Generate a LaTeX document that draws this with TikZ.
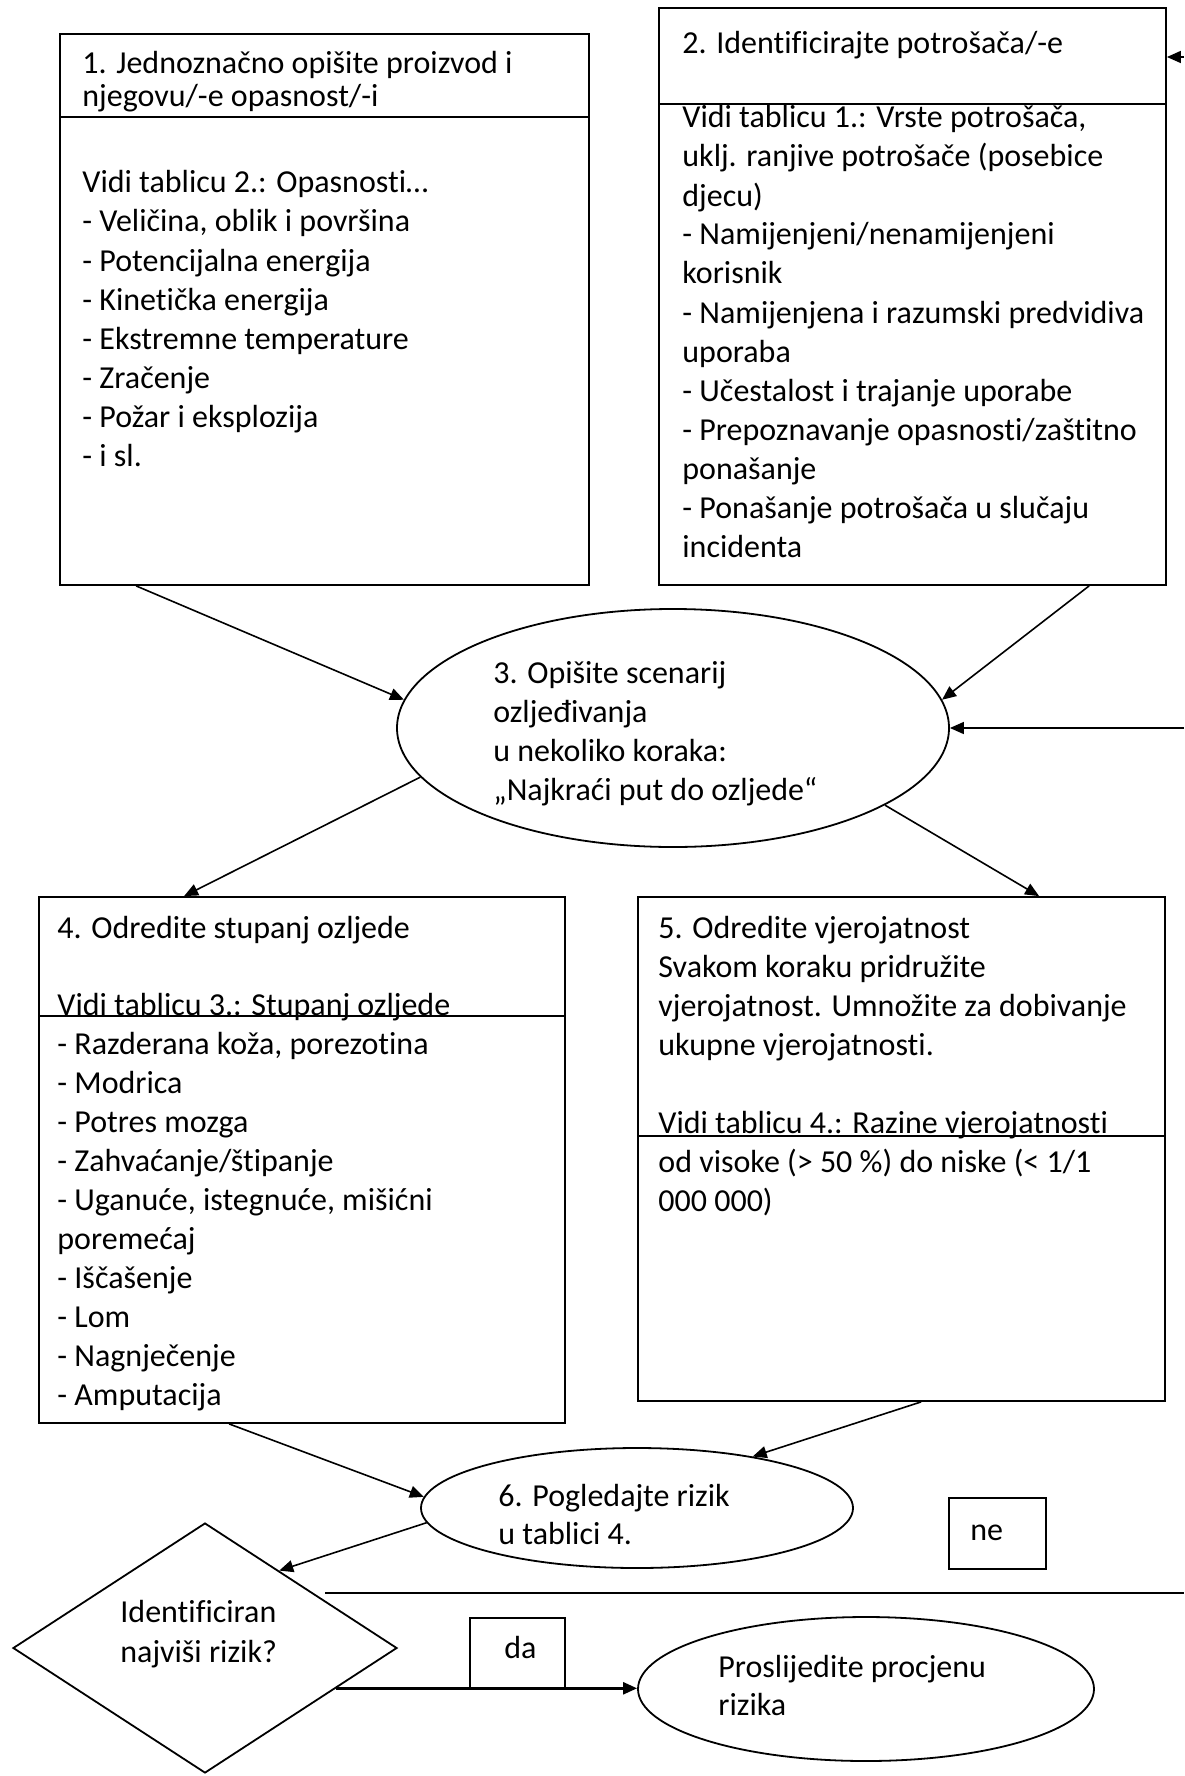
\documentclass[tikz,border=0pt]{standalone}
\usepackage{fontspec}
\setmainfont{Carlito}[Ligatures=NoCommon]
\usetikzlibrary{shapes.geometric,arrows.meta,calc,fit}
\begin{document}
\begin{tikzpicture}[x=0.5pt,y=-0.5pt,
  box/.style={draw,line width=0.9pt,inner sep=0pt,rectangle},
  ell/.style={draw,ellipse,line width=0.9pt,inner sep=0pt},
  txt/.style={anchor=base west,inner sep=0pt,font=\fontsize{16}{19.5}\selectfont},
  arr/.style={line width=0.8pt,-{Triangle[length=7pt,width=6pt]}},
  divider/.style={line width=0.9pt}]
\useasboundingbox (0,0) rectangle (1184,1776);

% shapes
\node[box,fit={(60,34) (589,585)}] (b1) {};
\node[box,fit={(659,8) (1166,585)}] (b2) {};
\node[box,fit={(39,897) (565,1423)}] (b4) {};
\node[box,fit={(638,897) (1165,1401)}] (b5) {};
\node[ell,minimum width=276pt,minimum height=119pt] (e3) at (673,728) {};
\node[ell,minimum width=216pt,minimum height=60pt] (e6) at (637,1508) {};
\node[ell,minimum width=228pt,minimum height=72pt] (pro) at (866,1689) {};
\node[draw,diamond,line width=0.9pt,inner sep=0pt,minimum width=192pt,minimum height=125pt] (dia) at (205,1648) {};
\node[box,fit={(470,1618) (565,1688)}] (da) {};
\node[box,fit={(949,1498) (1046,1569)}] (ne) {};

% texts
\node[txt] (t1a) at (82,74) {1. Jednoznačno opišite proizvod i};
\node[txt] (t1b) at (82,107) {njegovu/-e opasnost/-i};
\foreach \s [count=\i] in {{Vidi tablicu 2.: Opasnosti…},{- Veličina, oblik i površina},{- Potencijalna energija},{- Kinetička energija},{- Ekstremne temperature},{- Zračenje},{- Požar i eksplozija},{- i sl.}}
  \node[txt] (t1-\i) at (82,{193+39*(\i-1)}) {\s};

\node[txt] (t2a) at (682,54) {2. Identificirajte potrošača/-e};
\foreach \s [count=\i] in {{Vidi tablicu 1.: Vrste potrošača,},{uklj. ranjive potrošače (posebice},{djecu)},{- Namijenjeni/nenamijenjeni},{korisnik},{- Namijenjena i razumski predvidiva},{uporaba},{- Učestalost i trajanje uporabe},{- Prepoznavanje opasnosti/zaštitno},{ponašanje},{- Ponašanje potrošača u slučaju},{incidenta}}
  \node[txt] (t2-\i) at (682,{128+39*(\i-1)}) {\s};

\foreach \s [count=\i] in {{3. Opišite scenarij},{ozljeđivanja},{u nekoliko koraka:},{„Najkraći put do ozljede“}}
  \node[txt] (t3-\i) at (493,{683+39*(\i-1)}) {\s};

\node[txt] (t4a) at (57,938) {4. Odredite stupanj ozljede};
\node[txt] (t4b) at (57,1015) {Vidi tablicu 3.: Stupanj ozljede};
\foreach \s [count=\i] in {{- Razderana koža, porezotina},{- Modrica},{- Potres mozga},{- Zahvaćanje/štipanje},{- Uganuće, istegnuće, mišićni},{poremećaj},{- Iščašenje},{- Lom},{- Nagnječenje},{- Amputacija}}
  \node[txt] (t4-\i) at (57,{1054+39*(\i-1)}) {\s};

\foreach \s [count=\i] in {{5. Odredite vjerojatnost},{Svakom koraku pridružite},{vjerojatnost. Umnožite za dobivanje},{ukupne vjerojatnosti.}}
  \node[txt] (t5-\i) at (658,{938+39*(\i-1)}) {\s};
\node[txt] (t5b) at (658,1133) {Vidi tablicu 4.: Razine vjerojatnosti};
\node[txt] (t5c) at (658,1172) {od visoke (> 50 \%) do niske (< 1/1};
\node[txt] (t5d) at (658,1211) {000 000)};

\node[txt] (t6a) at (498,1506) {6. Pogledajte rizik};
\node[txt] (t6b) at (498,1544) {u tablici 4.};
\node[txt] (tda) at (120,1622) {Identificiran};
\node[txt] (tdb) at (120,1662) {najviši rizik?};
\node[txt] (tda2) at (504,1658) {da};
\node[txt] (tne) at (970,1540) {ne};
\node[txt] (tpa) at (718,1677) {Proslijedite procjenu};
\node[txt] (tpb) at (718,1715) {rizika};

% dividers
\draw[divider] ([yshift=-42pt]b1.north west) -- ([yshift=-42pt]b1.north east);
\draw[divider] ([yshift=-48.5pt]b2.north west) -- ([yshift=-48.5pt]b2.north east);
\draw[divider] ([yshift=-60pt]b4.north west) -- ([yshift=-60pt]b4.north east);
\draw[divider] ([yshift=-120pt]b5.north west) -- ([yshift=-120pt]b5.north east);

% connectors
\draw[arr] ($(b1.south west)+(77,0)$) -- (e3.174);
\draw[arr] ($(b2.south west)+(431,0)$) -- (e3.6);
\coordinate (inE) at (1184,728);
\draw[arr] (inE) -- (e3.east);
\draw[arr] (e3.191) -- ($(b4.north west)+(146,0)$);
\draw[arr] (e3.-20) -- ($(b5.north west)+(402,0)$);
\draw[arr] ($(b4.south west)+(191,0)$) -- (e6.177);
\draw[arr] ($(b5.south west)+(284,0)$) -- (e6.24);
\draw[arr] (e6.184) -- ($(dia.north)!0.385!(dia.east)$);
\coordinate (daS) at ($(dia.east)!0.32!(dia.south)$);
\draw[arr,line width=1.2pt] (daS) -- (daS -| pro.west);
\coordinate (neL) at (325,1593);
\coordinate (neR) at (1184,1593);
\draw[line width=1.3pt] (neL) -- (neR);
\coordinate (inN) at (1184,57);
\draw[arr] (inN) -- (inN -| b2.east);
\end{tikzpicture}
\end{document}
